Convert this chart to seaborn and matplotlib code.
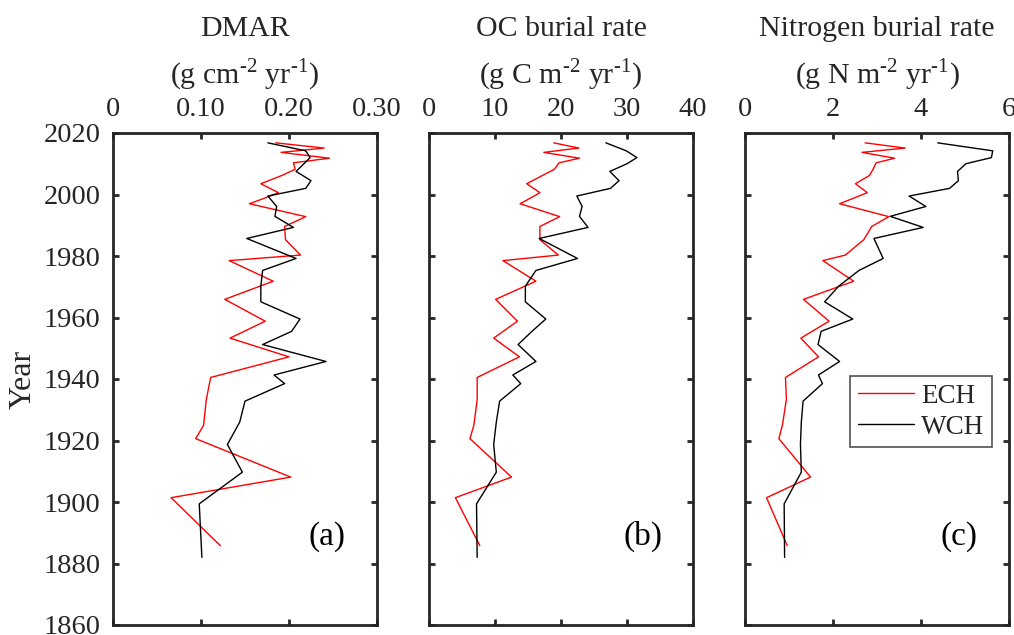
import matplotlib
matplotlib.use("Agg")
import matplotlib.pyplot as plt
import seaborn as sns
import pandas as pd

# ---- data ----
ech_year = [2016.8, 2015.1, 2013.7, 2011.8, 2010.3, 2008.2, 2006.2, 2003.5, 2000.6, 1999.1,
            1997.0, 1992.8, 1989.6, 1985.3, 1980.3, 1978.5, 1971.8, 1965.9, 1958.8, 1953.3,
            1947.2, 1940.5, 1933.3, 1925.0, 1920.6, 1908.1, 1901.4, 1885.8]
ech_dmar = [0.185, 0.240, 0.191, 0.246, 0.205, 0.207, 0.192, 0.168, 0.188, 0.175,
            0.155, 0.219, 0.195, 0.196, 0.213, 0.132, 0.182, 0.127, 0.173, 0.133,
            0.200, 0.111, 0.106, 0.103, 0.094, 0.202, 0.066, 0.122]
ech_oc = [18.9, 22.7, 17.4, 22.8, 19.7, 19.0, 17.2, 14.8, 16.8, 15.6,
          13.8, 19.8, 16.8, 16.8, 19.6, 11.2, 16.2, 10.1, 13.4, 9.8,
          13.7, 7.3, 7.3, 6.8, 6.2, 12.5, 4.0, 7.7]
ech_n = [2.73, 3.64, 2.66, 3.40, 2.98, 2.91, 2.83, 2.51, 2.78, 2.52,
         2.15, 3.27, 2.88, 2.70, 2.28, 1.77, 2.47, 1.33, 1.91, 1.27,
         1.67, 0.92, 0.94, 0.85, 0.77, 1.49, 0.49, 0.96]

wch_year = [2016.8, 2014.2, 2012.0, 2010.0, 2007.5, 2004.5, 2002.0, 1999.5, 1996.1, 1992.9,
            1989.3, 1985.7, 1979.2, 1975.3, 1970.2, 1965.1, 1959.5, 1955.5, 1951.2, 1945.7,
            1941.3, 1938.5, 1932.8, 1926.0, 1918.7, 1909.7, 1899.4, 1882.0]
wch_dmar = [0.176, 0.219, 0.224, 0.217, 0.208, 0.225, 0.219, 0.176, 0.186, 0.184,
            0.205, 0.152, 0.208, 0.170, 0.168, 0.168, 0.2125, 0.203, 0.170, 0.242,
            0.183, 0.195, 0.150, 0.144, 0.130, 0.147, 0.098, 0.101]
wch_oc = [26.8, 29.9, 31.5, 30.0, 27.4, 28.8, 27.5, 22.4, 23.2, 22.8,
          24.1, 16.7, 22.5, 16.2, 14.6, 14.6, 17.7, 15.6, 13.5, 16.2,
          12.7, 13.9, 10.7, 10.2, 9.8, 10.2, 7.2, 7.3]
wch_n = [4.38, 5.63, 5.60, 5.02, 4.83, 4.85, 4.65, 3.73, 4.11, 3.30,
         4.05, 2.93, 3.14, 2.59, 2.13, 1.81, 2.45, 1.73, 1.66, 2.15,
         1.67, 1.76, 1.32, 1.28, 1.26, 1.28, 0.89, 0.90]

HY = "\u2010"
titles = ["DMAR\n(g cm$^{\\mathregular{" + HY + "2}}$ yr$^{\\mathregular{" + HY + "1}}$)",
          "OC burial rate\n(g C m$^{\\mathregular{" + HY + "2}}$ yr$^{\\mathregular{" + HY + "1}}$)",
          "Nitrogen burial rate\n(g N m$^{\\mathregular{" + HY + "2}}$ yr$^{\\mathregular{" + HY + "1}}$)"]
xticks = [[0, 0.1, 0.2, 0.3], [0, 10, 20, 30, 40], [0, 2, 4, 6]]
xticklabels = [["0", "0.10", "0.20", "0.30"], ["0", "10", "20", "30", "40"], ["0", "2", "4", "6"]]
xlims = [(0, 0.3), (0, 40), (0, 6)]
yticks = [1860, 1880, 1900, 1920, 1940, 1960, 1980, 2000, 2020]
panel_labels = ["(a)", "(b)", "(c)"]
series_names = ["ECH", "WCH"]

sns.set_theme(style="white")
plt.rcParams["font.family"] = ["Liberation Serif", "DejaVu Serif"]
plt.rcParams["mathtext.fontset"] = "custom"
plt.rcParams["mathtext.rm"] = "Liberation Serif"

fig = plt.figure(figsize=(10.14, 6.35), dpi=100)
lefts = [113, 429, 745]
W, H = 1014, 635
axes = []
for i, l in enumerate(lefts):
    ax = fig.add_axes([l / W, 10 / H, 264 / W, 492 / H])
    axes.append(ax)

ech_vals = [ech_dmar, ech_oc, ech_n]
wch_vals = [wch_dmar, wch_oc, wch_n]
spine_c = "#262626"
for i, ax in enumerate(axes):
    de = pd.DataFrame({"v": ech_vals[i], "year": ech_year})
    dw = pd.DataFrame({"v": wch_vals[i], "year": wch_year})
    sns.lineplot(data=de, x="v", y="year", sort=False, estimator=None, color="#ff0000",
                 lw=1.0, ax=ax, label=series_names[0])
    sns.lineplot(data=dw, x="v", y="year", sort=False, estimator=None, color="black",
                 lw=1.0, ax=ax, label=series_names[1])
    ax.set_xlim(*xlims[i])
    ax.set_ylim(1860, 2020)
    ax.set_xticks(xticks[i])
    ax.set_xticklabels(xticklabels[i])
    ax.set_yticks(yticks)
    ax.xaxis.tick_top()
    ax.tick_params(axis="both", direction="in", length=4.5, width=2, color=spine_c,
                   labelsize=20.5, labelcolor="#262626", top=True, bottom=True,
                   left=True, right=True, pad=9)
    ax.tick_params(axis="x", labelbottom=False, labeltop=True, pad=8)
    if i > 0:
        ax.tick_params(axis="y", labelleft=False)
    for s in ax.spines.values():
        s.set_visible(True)
        s.set_color(spine_c)
        s.set_linewidth(2)
    ax.set_xlabel(titles[i], fontsize=21.5, labelpad=9, color="#262626", linespacing=1.55)
    ax.xaxis.set_label_position("top")
    ax.set_ylabel("")
    ax.text(0.812, 0.18, panel_labels[i], transform=ax.transAxes, fontsize=24,
            ha="center", va="center", color="black")
    if i < 2:
        ax.get_legend().remove()
    else:
        leg = ax.legend(loc="upper right", bbox_to_anchor=(0.936, 0.506), fontsize=19.5,
                        frameon=True, fancybox=False, handlelength=2.07,
                        borderpad=0.28, labelspacing=0.22, handletextpad=0.27,
                        borderaxespad=0)
        leg.get_frame().set_edgecolor(spine_c)
        leg.get_frame().set_linewidth(1.2)

axes[0].set_ylabel("Year", fontsize=23, color="#262626", labelpad=4)

fig.savefig("out.png", dpi=100)
